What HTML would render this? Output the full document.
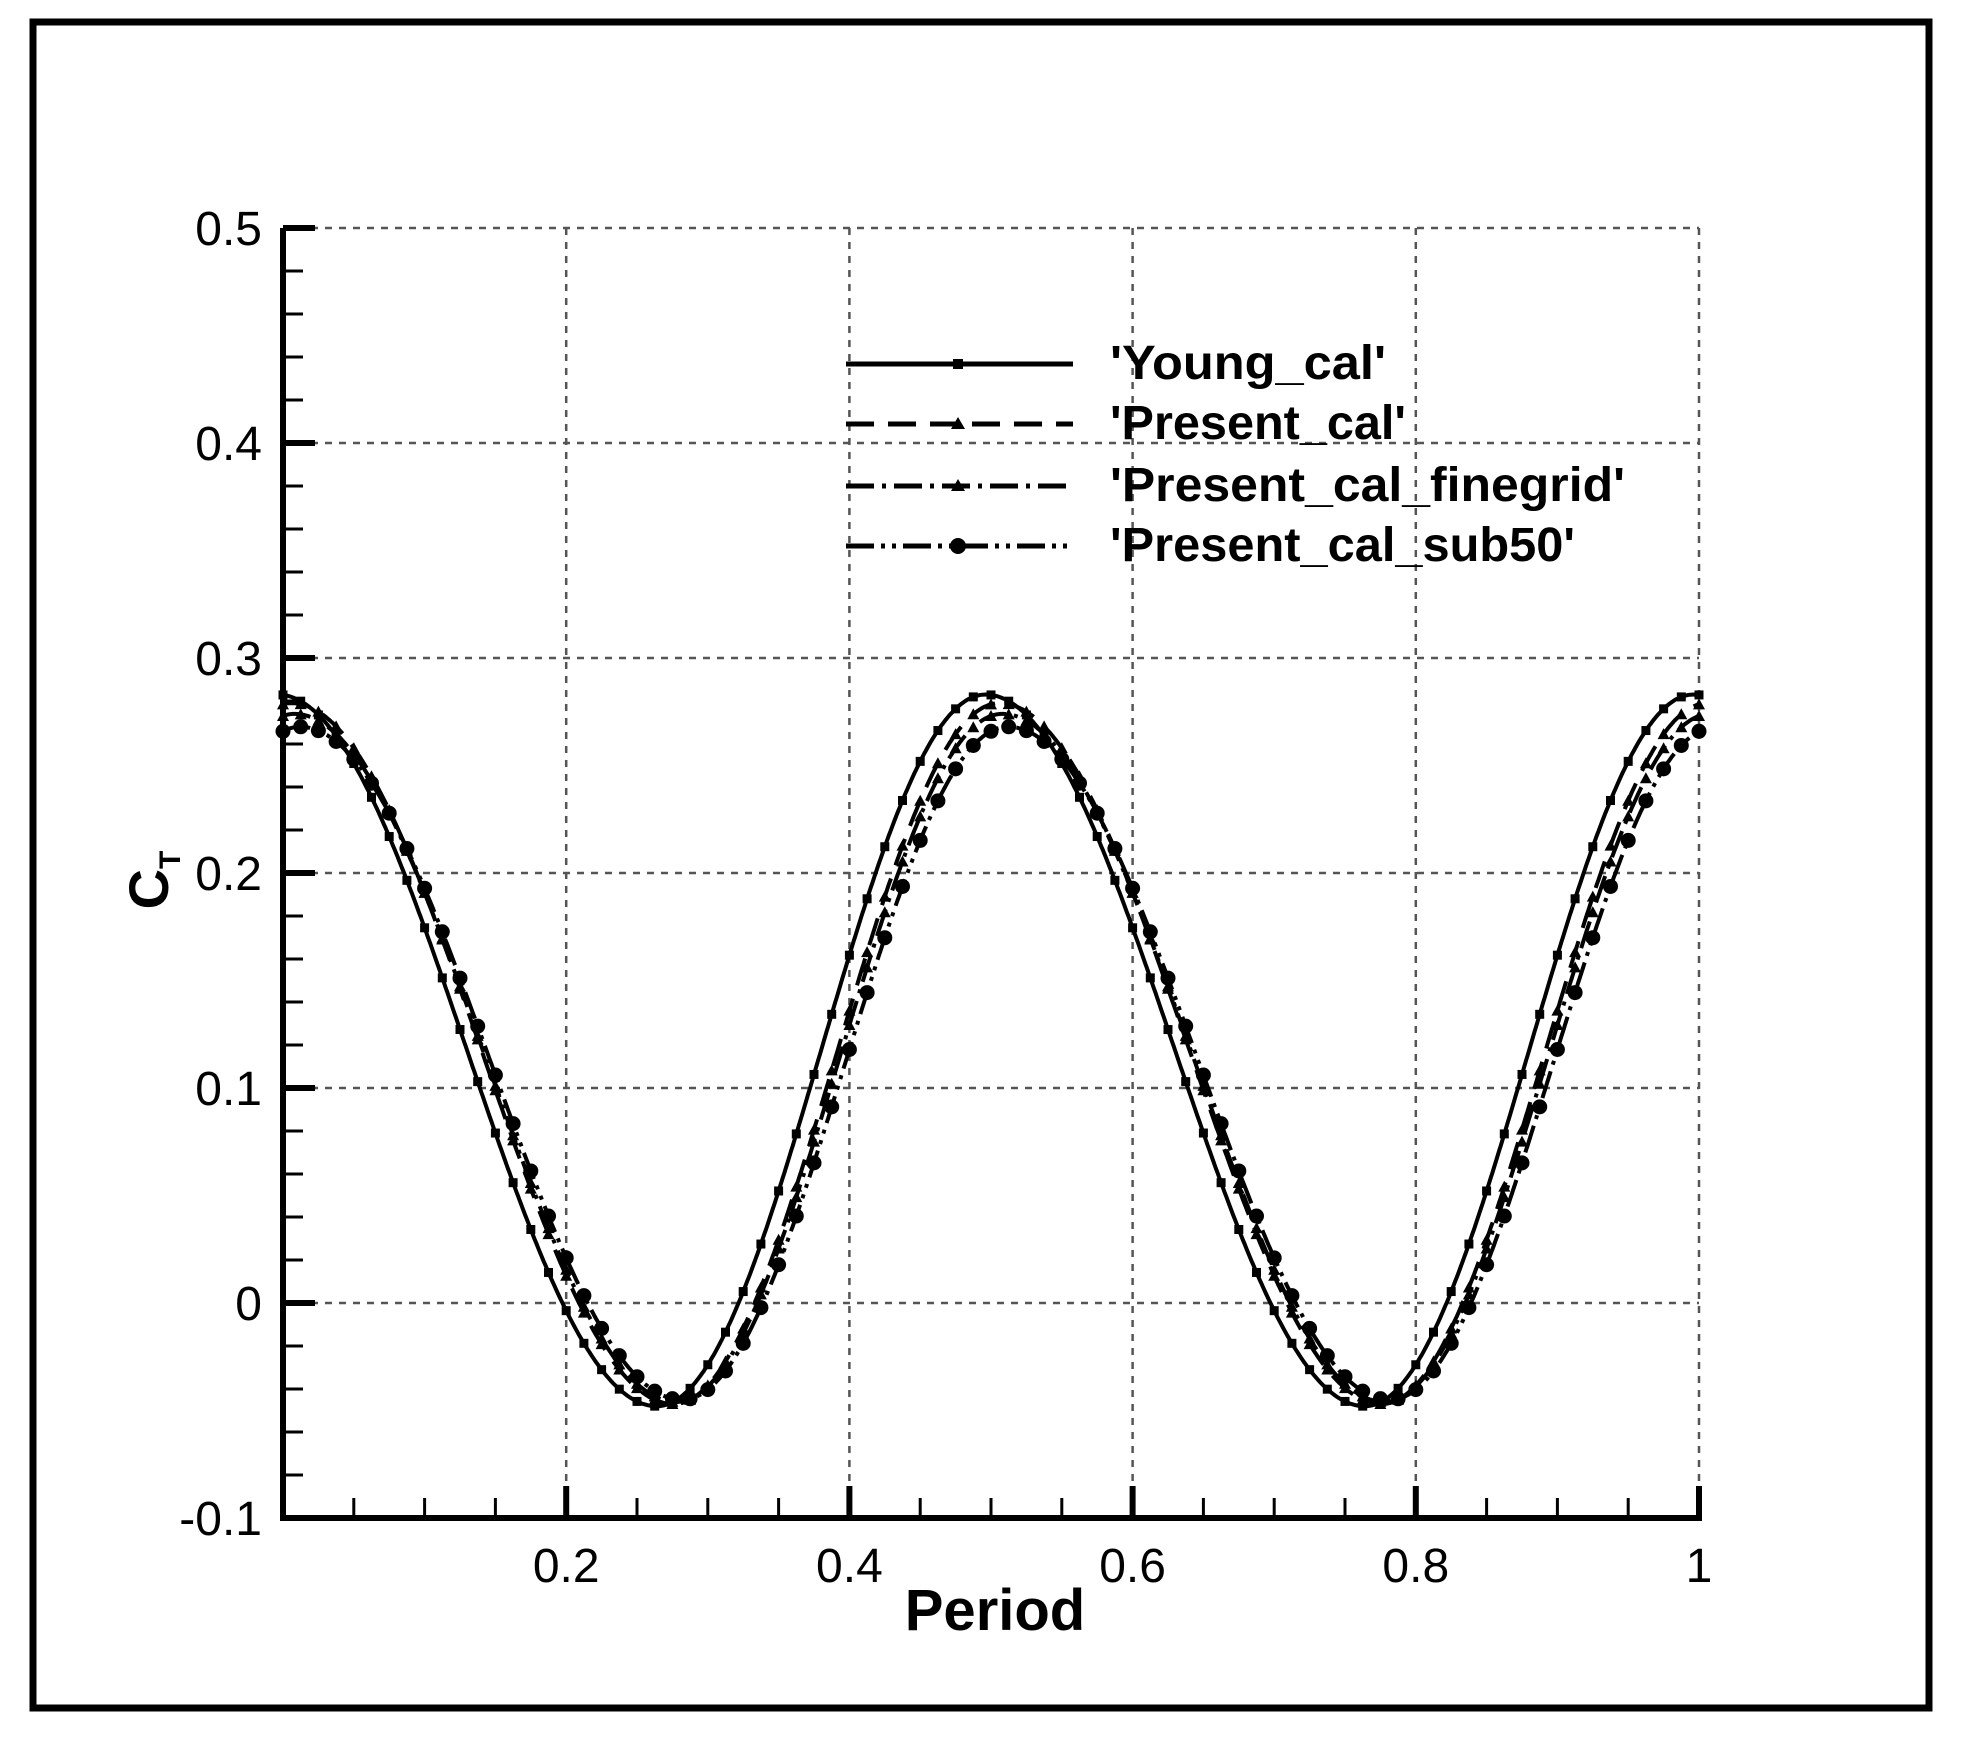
<!DOCTYPE html>
<html><head><meta charset="utf-8"><style>
html,body{margin:0;padding:0;background:#fff}
svg{display:block}
text{font-family:"Liberation Sans",Arial,sans-serif;fill:#000}
</style></head><body>
<svg id="s" width="1964" height="1746" viewBox="0 0 1964 1746" xmlns="http://www.w3.org/2000/svg">
<rect x="0" y="0" width="1964" height="1746" fill="#fff"/>
<rect x="33" y="22" width="1896" height="1686" fill="none" stroke="#000" stroke-width="7"/>
<g id="grid" stroke="#555" stroke-width="2.5" stroke-dasharray="7,7" fill="none"></g>
<g id="ticks" stroke="#000" fill="none"></g>
<g id="series" fill="none" stroke="#000"></g>
<g id="labels" font-size="48"></g>
<text x="995" y="1630" font-size="58" font-weight="bold" text-anchor="middle">Period</text>
<g transform="translate(168,880) rotate(-90)">
<text x="0" y="0" font-size="56" font-weight="bold" text-anchor="middle">C<tspan font-size="30" dy="12">T</tspan></text>
</g>
<g id="legend" stroke="#000" fill="none"></g>
<g font-size="48" font-weight="bold">
<text x="1110" y="379" textLength="276" lengthAdjust="spacingAndGlyphs">'Young_cal'</text>
<text x="1110" y="439" textLength="296" lengthAdjust="spacingAndGlyphs">'Present_cal'</text>
<text x="1110" y="501" textLength="515" lengthAdjust="spacingAndGlyphs">'Present_cal_finegrid'</text>
<text x="1110" y="561" textLength="465" lengthAdjust="spacingAndGlyphs">'Present_cal_sub50'</text>
</g>
</svg>
<script>
const NS="http://www.w3.org/2000/svg";
const X0=283,X1=1699,Y0=1518,Y1=228;
const px=t=>X0+(X1-X0)*t, py=v=>Y0-(Y0-Y1)*(v+0.1)/0.6;
function el(p,tag,a){const e=document.createElementNS(NS,tag);for(const k in a)e.setAttribute(k,a[k]);p.appendChild(e);return e;}
const grid=document.getElementById('grid'),ticks=document.getElementById('ticks'),labels=document.getElementById('labels');
for(let i=1;i<=5;i++){const x=px(i*0.2);el(grid,'line',{x1:x,y1:Y1,x2:x,y2:Y0});}
for(let i=0;i<=5;i++){const y=py(0.5-i*0.1);el(grid,'line',{x1:X0,y1:y,x2:X1,y2:y});}
el(ticks,'path',{d:`M${X0},${Y1} L${X0},${Y0} L${X1},${Y0} L${X1},${Y0-30}`,'stroke-width':6});
for(let i=0;i<=30;i++){const v=-0.1+i*0.02,y=py(v);const maj=i%5==0;el(ticks,'line',{x1:X0,y1:y,x2:X0+(maj?32:20),y2:y,'stroke-width':maj?6:3});}
for(let i=1;i<=20;i++){const x=px(i*0.05);const maj=i%4==0;el(ticks,'line',{x1:x,y1:Y0,x2:x,y2:Y0-(maj?32:20),'stroke-width':maj?6:3});}
['-0.1','0','0.1','0.2','0.3','0.4','0.5'].forEach((s,i)=>{const t=el(labels,'text',{x:262,y:py(-0.1+i*0.1)+17,'text-anchor':'end'});t.textContent=s;});
[['0.2',0.2],['0.4',0.4],['0.6',0.6],['0.8',0.8],['1',1]].forEach(([s,v])=>{const t=el(labels,'text',{x:px(v),y:Y0+64,'text-anchor':'middle'});t.textContent=s;});
function f(t,sh,mx,mn,td){let u=((t-sh)%0.5+0.5)%0.5;let ph=u<td?Math.PI*u/td:Math.PI+Math.PI*(u-td)/(0.5-td);return (mx+mn)/2+(mx-mn)/2*Math.cos(ph);}
const S=[
 {sh:-0.004,mx:0.283,mn:-0.048,td:0.268,dash:'',m:'sq'},
 {sh:0.006,mx:0.279,mn:-0.047,td:0.27,dash:'28,14',m:'tri'},
 {sh:0.008,mx:0.274,mn:-0.046,td:0.27,dash:'28,8,4,8',m:'tri'},
 {sh:0.012,mx:0.268,mn:-0.045,td:0.27,dash:'28,7,4,7,4,7',m:'c'}];
const g=document.getElementById('series');
S.forEach(s=>{let d='';for(let i=0;i<=1000;i++){const t=i/1000;d+=(i?'L':'M')+px(t).toFixed(1)+','+py(f(t,s.sh,s.mx,s.mn,s.td)).toFixed(1);}
 const a={d:d,'stroke-width':4};if(s.dash)a['stroke-dasharray']=s.dash;el(g,'path',a);
 for(let i=0;i<=80;i++){const t=i/80,x=px(t),y=py(f(t,s.sh,s.mx,s.mn,s.td));
  if(s.m=='c')el(g,'circle',{cx:x,cy:y,r:7.5,fill:'#000',stroke:'none'});
  else if(s.m=='sq')el(g,'rect',{x:x-4.5,y:y-4.5,width:9,height:9,fill:'#000',stroke:'none'});
  else el(g,'path',{d:`M${x-6},${y+5}L${x+6},${y+5}L${x},${y-6}Z`,fill:'#000',stroke:'none'});}
});
const lg=document.getElementById('legend');
const ly=[364,424,486,546];
S.forEach((s,i)=>{const a={x1:846,y1:ly[i],x2:1073,y2:ly[i],'stroke-width':5};if(s.dash)a['stroke-dasharray']=s.dash;el(lg,'line',a);
 const x=958,y=ly[i];
 if(s.m=='c')el(lg,'circle',{cx:x,cy:y,r:8,fill:'#000',stroke:'none'});
 else if(s.m=='sq')el(lg,'rect',{x:x-5,y:y-5,width:10,height:10,fill:'#000',stroke:'none'});
 else el(lg,'path',{d:`M${x-7},${y+5}L${x+7},${y+5}L${x},${y-7}Z`,fill:'#000',stroke:'none'});});
</script>
</body></html>
